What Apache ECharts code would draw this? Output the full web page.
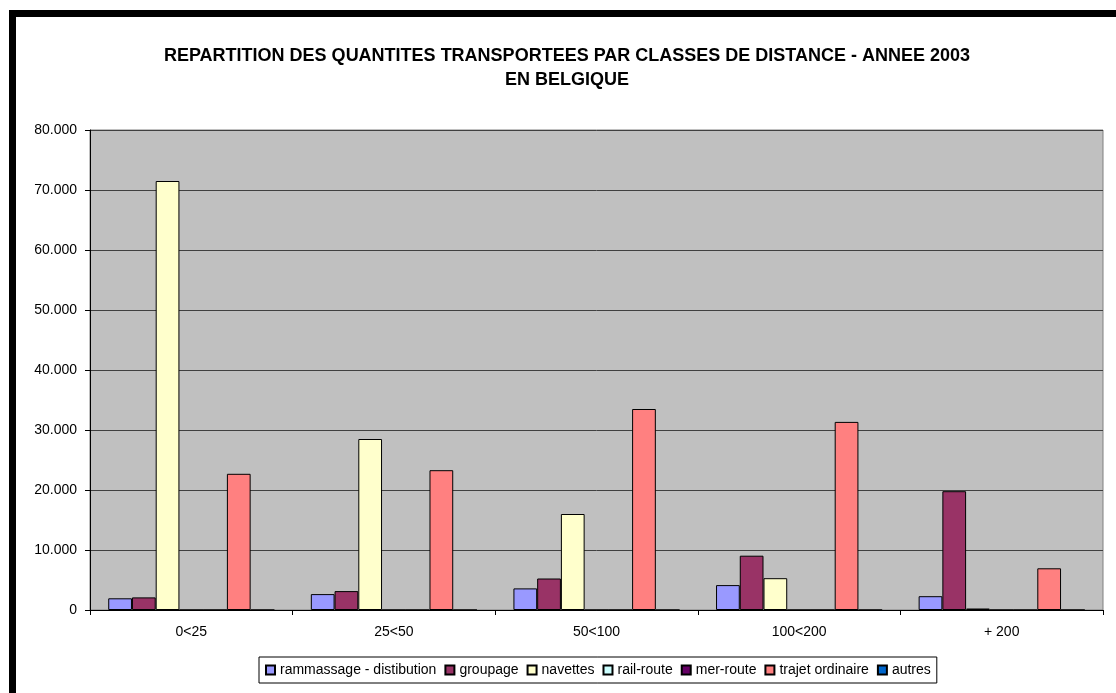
<!DOCTYPE html>
<html lang="fr">
<head>
    <meta charset="UTF-8">
    <script src="https://cdn.jsdelivr.net/npm/echarts@6/dist/echarts.min.js"></script>
    <title>Repartition des quantites transportees</title>
</head>
<body>
    <style>
        html, body, #main {
            margin: 0;
            width: 1116px;
            height: 693px;
            background: #fff;
        }
    </style>
    <div id="main"></div>
    <script>
        var categories = ['0<25', '25<50', '50<100', '100<200', '+ 200'];
        var seriesNames = ['rammassage - distibution', 'groupage', 'navettes', 'rail-route', 'mer-route', 'trajet ordinaire', 'autres'];
        var rammassage = [1950, 2650, 3600, 4150, 2300];
        var groupage = [2100, 3150, 5250, 9050, 19800];
        var navettes = [71500, 28500, 16000, 5300, 250];
        var railRoute = [0, 0, 0, 0, 0];
        var merRoute = [0, 0, 0, 0, 0];
        var trajetOrdinaire = [22700, 23300, 33500, 31350, 6950];
        var autres = [0, 0, 0, 0, 0];
        var yTicks = [0, 10000, 20000, 30000, 40000, 50000, 60000, 70000, 80000];

        var values = [rammassage, groupage, navettes, railRoute, merRoute, trajetOrdinaire, autres];
        var colors = ['#9999FF', '#993366', '#FFFFCC', '#CCFFFF', '#660066', '#FF8080', '#0066CC'];

        var font = 'Liberation Sans, Arial, sans-serif';

        var chart = echarts.init(document.getElementById('main'));
        chart.setOption({
            animation: false,
            backgroundColor: '#fff',
            textStyle: { fontFamily: font },
            graphic: [
                // heavy black frame, top and left
                { type: 'rect', shape: { x: 9, y: 10, width: 1107, height: 7 }, style: { fill: '#000' } },
                { type: 'rect', shape: { x: 9, y: 10, width: 7, height: 683 }, style: { fill: '#000' } }
            ],
            title: {
                text: 'REPARTITION DES QUANTITES TRANSPORTEES PAR CLASSES DE DISTANCE - ANNEE 2003\nEN BELGIQUE',
                left: 562,
                top: 39,
                textAlign: 'center',
                textStyle: {
                    fontFamily: font,
                    fontSize: 18,
                    fontWeight: 'bold',
                    color: '#000',
                    lineHeight: 24
                }
            },
            legend: {
                data: seriesNames,
                left: 259,
                top: 657,
                icon: 'rect',
                itemWidth: 9,
                itemHeight: 9,
                itemGap: 8,
                padding: [6, 6, 6, 6],
                borderColor: '#000',
                borderWidth: 1,
                backgroundColor: '#fff',
                textStyle: { fontFamily: font, fontSize: 14, color: '#000' }
            },
            grid: {
                left: 90,
                right: 13,
                top: 130,
                bottom: 83,
                show: true,
                backgroundColor: '#C0C0C0',
                borderColor: '#808080',
                borderWidth: 1
            },
            xAxis: {
                type: 'category',
                data: categories,
                axisLine: { lineStyle: { color: '#000', width: 1 } },
                axisTick: { show: true, length: 5, lineStyle: { color: '#000' } },
                axisLabel: { fontFamily: font, fontSize: 14, color: '#000', margin: 15 }
            },
            yAxis: {
                type: 'value',
                min: yTicks[0],
                max: yTicks[yTicks.length - 1],
                interval: 10000,
                axisLine: { show: true, lineStyle: { color: '#000', width: 1 } },
                axisTick: { show: true, length: 5, lineStyle: { color: '#000' } },
                axisLabel: {
                    fontFamily: font,
                    fontSize: 14,
                    color: '#000',
                    margin: 13,
                    formatter: function (v) {
                        return v === 0 ? '0' : (v / 1000) + '.000';
                    }
                },
                splitLine: { show: true, lineStyle: { color: '#404040', width: 1 } }
            },
            series: seriesNames.map(function (name, i) {
                return {
                    name: name,
                    type: 'bar',
                    data: values[i],
                    barGap: '0%',
                    barCategoryGap: '18%',
                    itemStyle: { color: colors[i], borderColor: '#000', borderWidth: 1 }
                };
            })
        });
    </script>
</body>
</html>
